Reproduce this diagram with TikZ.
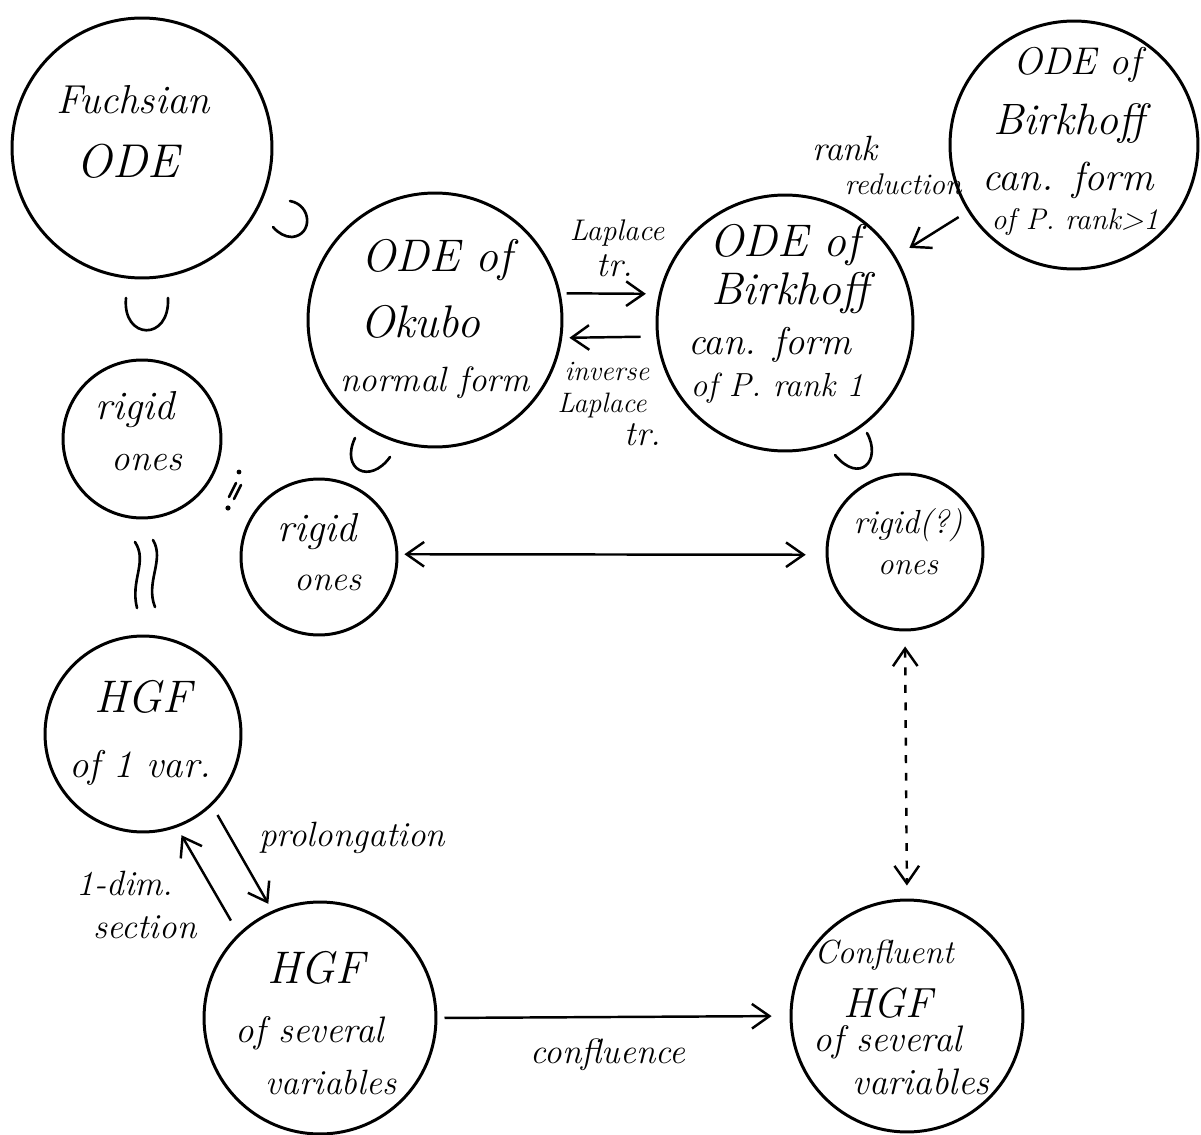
\documentclass[tikz,border=0pt]{standalone}
\usetikzlibrary{arrows.meta}
\newcommand\hwf[1]{\fontsize{#1}{#1}\selectfont\itshape}
\tikzset{
  bub/.style={circle, draw, line width=1.7pt, inner sep=0pt},
  hw/.style={inner sep=0pt},
  barb/.tip={Straight Barb[length=10pt,width=14pt,line width=1.4pt]},
  arr/.style={line width=1.4pt, -barb},
  darr/.style={line width=1.4pt, barb-barb},
  sym/.style={line width=1.5pt, line cap=round},
}
\begin{document}
\begin{tikzpicture}[x=0.02cm,y=-0.02cm]
\fill[white] (0,0) rectangle (1201,1135);
\useasboundingbox (0,0) rectangle (1201,1135);

% circles
\node[bub, minimum size=5.2cm]  (fuchs) at (142,148) {};
\node[bub, minimum size=5.08cm] (okubo) at (435,320) {};
\node[bub, minimum size=5.12cm] (birkA) at (785,323) {};
\node[bub, minimum size=4.96cm] (birkB) at (1074,145) {};
\node[bub, minimum size=3.16cm] (rigL)  at (142,439) {};
\node[bub, minimum size=3.12cm] (rigM)  at (319,557) {};
\node[bub, minimum size=3.12cm] (rigQ)  at (905,552) {};
\node[bub, minimum size=3.92cm] (hgfA)  at (143,734) {};
\node[bub, minimum size=4.64cm] (hgfS)  at (320,1018) {};
\node[bub, minimum size=4.64cm] (conf)  at (907,1016) {};

% texts in circles
\node[hw] (fuchsA) at (133,100) {\hwf{23}Fuchsian};
\node[hw] (fuchsB) at (128,161) {\hwf{27}ODE};

\node[hw] (okA) at (437,260) {\hwf{26}ODE of};
\node[hw] (okB) at (420,322) {\hwf{26}Okubo};
\node[hw] (okC) at (435,383) {\hwf{20}normal form};

\node[hw] (bAa) at (785,245) {\hwf{26}ODE of};
\node[hw] (bAb) at (790,293) {\hwf{26}Birkhoff};
\node[hw] (bAc) at (770,345) {\hwf{22}can. form};
\node[hw] (bAd) at (777,388) {\hwf{19}of P. rank 1};

\node[hw] (bBa) at (1077,65)  {\hwf{22}ODE of};
\node[hw] (bBb) at (1069,124) {\hwf{25}Birkhoff};
\node[hw] (bBc) at (1068,180) {\hwf{23}can. form};
\node[hw] (bBd) at (1075,222) {\hwf{17}of P. rank>1};

\node[hw] (rLa) at (135,410) {\hwf{23}rigid};
\node[hw] (rLb) at (147,463) {\hwf{21}ones};
\node[hw] (rMa) at (317,532) {\hwf{23}rigid};
\node[hw] (rMb) at (328,583) {\hwf{20}ones};
\node[hw] (rQa) at (908,525) {\hwf{19}rigid(?)};
\node[hw] (rQb) at (908,568) {\hwf{18}ones};

\node[hw] (hAa) at (143,697) {\hwf{26}HGF};
\node[hw] (hAb) at (140,768) {\hwf{22}of 1 var.};

\node[hw] (hSa) at (316,968)  {\hwf{26}HGF};
\node[hw] (hSb) at (310,1033) {\hwf{21}of several};
\node[hw] (hSc) at (331,1082) {\hwf{20}variables};

\node[hw] (cfa) at (884,955)  {\hwf{19}Confluent};
\node[hw] (cfb) at (888,1003) {\hwf{24}HGF};
\node[hw] (cfc) at (888,1042) {\hwf{21}of several};
\node[hw] (cfd) at (921,1082) {\hwf{21}variables};

% edge labels
\node[hw] (lapA) at (617,233) {\hwf{17}Laplace};
\node[hw] (lapB) at (615,266) {\hwf{20}tr.};
\node[hw] (invA) at (607,372) {\hwf{16}inverse};
\node[hw] (invB) at (602,405) {\hwf{16}Laplace};
\node[hw] (invC) at (643,435) {\hwf{20}tr.};
\node[hw] (rkA)  at (845,148) {\hwf{20}rank};
\node[hw] (rkB)  at (903,184) {\hwf{17}reduction};
\node[hw] (prol) at (352,838) {\hwf{20}prolongation};
\node[hw] (secA) at (125,883) {\hwf{20}1-dim.};
\node[hw] (secB) at (145,927) {\hwf{20}section};
\node[hw] (cflu) at (608,1055) {\hwf{20}confluence};

% connectors
\draw[arr, shorten <=3.4pt, shorten >=7.4pt] (okubo.12) -- (birkA.167);
\draw[arr, shorten <=8.9pt, shorten >=4.1pt] (birkA.186) -- (okubo.-8);
\draw[arr, shorten <=6pt, shorten >=9pt] (birkB.212.3) -- (birkA.31.9);
\draw[darr, shorten <=3.4pt, shorten >=11.3pt] (rigM.2) -- (rigQ.182);
\draw[darr, dash pattern=on 4.5pt off 5.5pt, shorten <=8.5pt, shorten >=7.4pt] (rigQ.south) -- (conf.north);
\draw[arr, shorten <=6.2pt, shorten >=4.5pt] (hgfA.-46.5) -- (hgfS.114.7);
\draw[arr, shorten <=8.5pt, shorten >=5.1pt] (hgfS.134.7) -- (hgfA.-70.9);
\draw[arr, shorten <=4pt, shorten >=10.2pt] (hgfS.east) -- (conf.west);

% relation symbols
\draw[sym] (290,201) .. controls (312,205) and (313,235) .. (292,237) .. controls (285,237) and (278,233) .. (273,227);
\draw[sym] (126,298) .. controls (122,340) and (170,342) .. (168,298);
\draw[sym] (355,438) .. controls (340,470) and (370,485) .. (390,457);
\draw[sym] (867,433) .. controls (882,460) and (860,485) .. (835,455);
\draw[sym] (135,542) .. controls (148,562) and (130,580) .. (137,608);
\draw[sym] (153,540) .. controls (165,560) and (145,582) .. (155,607);
\draw[sym] (229,497) -- (236,483);
\draw[sym] (234,499) -- (241,485);
\fill (228,508) circle (2.6);
\fill (239,472) circle (2.4);
\end{tikzpicture}
\end{document}
